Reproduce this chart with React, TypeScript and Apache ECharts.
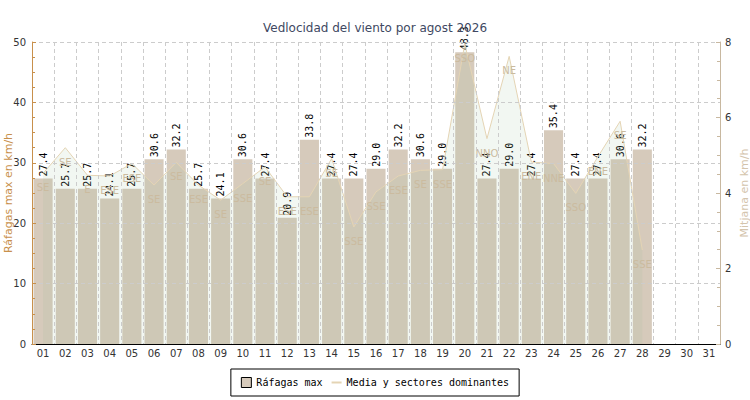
import React, { useEffect, useRef } from 'react';
import * as echarts from 'echarts';

const days = [
  '01', '02', '03', '04', '05', '06', '07', '08', '09', '10',
  '11', '12', '13', '14', '15', '16', '17', '18', '19', '20',
  '21', '22', '23', '24', '25', '26', '27', '28', '29', '30', '31',
];

// ráfagas max (km/h)
const gustMax = [
  27.4, 25.7, 25.7, 24.1, 25.7, 30.6, 32.2, 25.7, 24.1, 30.6,
  27.4, 20.9, 33.8, 27.4, 27.4, 29.0, 32.2, 30.6, 29.0, 48.3,
  27.4, 29.0, 27.4, 35.4, 27.4, 27.4, 30.6, 32.2, null, null, null,
];

// media diaria (km/h), eje derecho
const avgSpeed = [
  4.52, 5.2, 4.47, 4.45, 4.78, 4.21, 4.81, 4.21, 3.81, 4.25,
  4.69, 3.9, 3.9, 4.91, 3.1, 4.03, 4.45, 4.6, 4.62, 7.95,
  5.44, 7.62, 4.82, 4.78, 3.99, 4.96, 5.9, 2.49, null, null, null,
];

// sector dominante
const sectors = [
  'SE', 'SE', 'E', 'ESE', 'ESE', 'SE', 'SE', 'ESE', 'SE', 'SSE',
  'SE', 'ESE', 'ESE', 'SE', 'SSE', 'SSE', 'ESE', 'SE', 'SSE', 'SSO',
  'NNO', 'NE', 'ENE', 'NNE', 'SSO', 'ENE', 'SE', 'SSE',
];

const leftTicks = { min: 0, max: 50, interval: 10 };
const rightTicks = { min: 0, max: 8, interval: 2 };

const App: React.FC = () => {
  const chartRef = useRef<HTMLDivElement>(null);

  useEffect(() => {
    if (!chartRef.current) return;
    const chart = echarts.init(chartRef.current, null, { renderer: 'svg' });

    const gridLine = { show: true, lineStyle: { color: '#cccccc', type: [4, 3] as number[], width: 1 } };

    chart.setOption({
      animation: false,
      title: {
        text: 'Vedlocidad del viento por agost 2026',
        left: 'center',
        top: 17,
        textStyle: { fontFamily: 'DejaVu Sans', fontSize: 12, fontWeight: 'normal', color: '#404862' },
      },
      legend: {
        bottom: 4,
        left: 'center',
        borderColor: '#000',
        borderWidth: 1,
        padding: [8, 10],
        itemWidth: 10,
        itemHeight: 10,
        itemGap: 8,
        textStyle: { fontFamily: 'DejaVu Sans Mono', fontSize: 10, color: '#000' },
        data: [
          { name: 'Ráfagas max', icon: 'rect', itemStyle: { borderColor: '#000', borderWidth: 1 } },
          { name: 'Media y sectores dominantes' },
        ],
      },
      grid: { left: 32, right: 30, top: 42, bottom: 56, outerBoundsMode: 'none', containLabel: false },
      xAxis: {
        type: 'category',
        data: days,
        z: 5,
        axisLine: { lineStyle: { color: '#000' } },
        axisTick: { inside: true, length: 5, lineStyle: { color: '#000' } },
        axisLabel: { fontFamily: 'DejaVu Sans', fontSize: 10, color: '#333', margin: 4 },
        splitLine: gridLine,
      },
      yAxis: [
        {
          type: 'value',
          ...leftTicks,
          z: 5,
          name: 'Ráfagas max en km/h',
          nameLocation: 'middle',
          nameGap: 18,
          nameMoveOverlap: false,
          nameTextStyle: { fontFamily: 'DejaVu Sans', fontSize: 11, color: '#c8904c' },
          axisLine: { show: true, lineStyle: { color: '#c8904c' } },
          axisTick: { show: true, inside: true, length: 4, lineStyle: { color: '#c8904c' } },
          minorTick: { show: true, splitNumber: 4, length: 3, lineStyle: { color: '#c8904c' } },
          axisLabel: { fontFamily: 'DejaVu Sans', fontSize: 10, color: '#333', margin: 6 },
          splitLine: gridLine,
        },
        {
          type: 'value',
          ...rightTicks,
          z: 5,
          position: 'right',
          name: 'Mitjana en km/h',
          nameLocation: 'middle',
          nameGap: 19,
          nameMoveOverlap: false,
          nameTextStyle: { fontFamily: 'DejaVu Sans', fontSize: 11, color: '#d4c4ac' },
          axisLine: { show: true, lineStyle: { color: '#c8b8a0' } },
          axisTick: { show: true, inside: true, length: 4, lineStyle: { color: '#c8b8a0' } },
          minorTick: { show: true, splitNumber: 4, length: 3, lineStyle: { color: '#c8b8a0' } },
          axisLabel: { fontFamily: 'DejaVu Sans', fontSize: 10, color: '#333', margin: 5 },
          splitLine: { show: false },
        },
      ],
      series: [
        {
          name: 'Ráfagas max',
          type: 'bar',
          yAxisIndex: 0,
          data: gustMax,
          barCategoryGap: '14%',
          itemStyle: { color: '#d6cabb' },
          label: {
            show: true,
            position: 'top',
            rotate: 90,
            align: 'left',
            verticalAlign: 'middle',
            distance: 2,
            fontFamily: 'DejaVu Sans Mono',
            fontSize: 10,
            color: '#000',
            formatter: (p: any) => (p.value == null ? '' : Number(p.value).toFixed(1)),
          },
        },
        {
          name: 'Media y sectores dominantes',
          type: 'line',
          yAxisIndex: 1,
          data: avgSpeed,
          symbol: 'circle',
          symbolSize: 1,
          showSymbol: true,
          itemStyle: { color: 'rgba(0,0,0,0)' },
          lineStyle: { color: '#e4d4b4', width: 1 },
          areaStyle: { color: 'rgba(150,190,150,0.18)' },
          label: {
            show: true,
            position: 'bottom',
            distance: 9,
            fontFamily: 'DejaVu Sans',
            fontSize: 10,
            color: '#cbbb9f',
            formatter: (p: any) => sectors[p.dataIndex] ?? '',
          },
        },
      ],
    });

    return () => {
      chart.dispose();
    };
  }, []);

  return (
    <div
      ref={chartRef}
      style={{ position: 'fixed', left: 0, top: 0, width: 750, height: 400, background: '#fff' }}
    />
  );
};

export default App;
